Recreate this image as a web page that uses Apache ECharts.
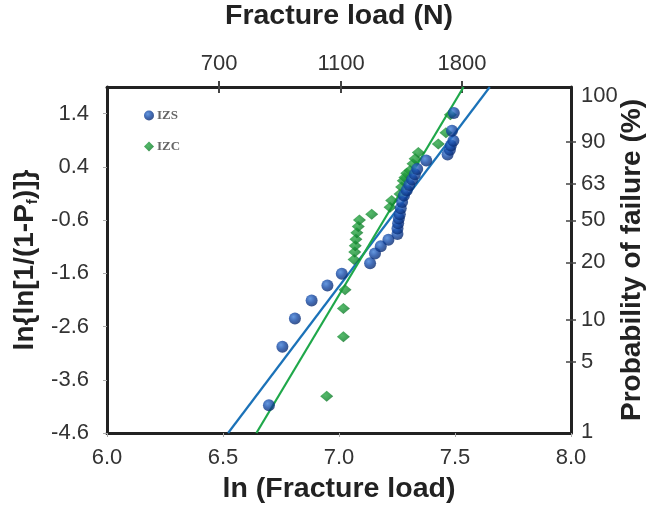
<!DOCTYPE html>
<html>
<head>
<meta charset="utf-8">
<script src="https://cdn.jsdelivr.net/npm/echarts@6/dist/echarts.min.js"></script>
<style>html,body{margin:0;padding:0;background:#fff}#c{width:649px;height:506px}</style>
</head>
<body>
<div id="c"></div>
<script>
// ---- data ----
const xTicks = [6.0, 6.5, 7.0, 7.5, 8.0];
const yTicks = [-4.6, -3.6, -2.6, -1.6, -0.6, 0.4, 1.4];
const loadLabels = ['700', '1100', '1800'];
const loadPos = [6.483, 7.009, 7.530];
const probLabels = ['1', '5', '10', '20', '50', '63', '90', '100'];
const probPos = [-4.58, -3.27, -2.48, -1.394, -0.606, 0.0875, 0.875, 1.74];

const izsX = [6.698, 6.756, 6.810, 6.882, 6.950, 7.012, 7.134, 7.155, 7.180, 7.213,
  7.252, 7.252, 7.255, 7.258, 7.262, 7.266, 7.272, 7.280, 7.292, 7.303, 7.315, 7.327, 7.337,
  7.376, 7.468, 7.478, 7.482, 7.493, 7.487, 7.495];
const izsY = [-4.08, -2.98, -2.45, -2.11, -1.83, -1.61, -1.41, -1.23, -1.09, -0.97,
  -0.86, -0.76, -0.66, -0.57, -0.49, -0.38, -0.26, -0.14, -0.04, 0.06, 0.16, 0.26, 0.36,
  0.52, 0.63, 0.72, 0.80, 0.89, 1.08, 1.41];

const izcX = [6.947, 7.019, 7.019, 7.026, 7.065, 7.068, 7.070, 7.073, 7.077, 7.083, 7.088,
  7.141, 7.220, 7.227, 7.263, 7.270, 7.277, 7.284, 7.292, 7.306, 7.319, 7.328, 7.342,
  7.428, 7.461, 7.480];
const izcY = [-3.91, -2.79, -2.26, -1.91, -1.34, -1.20, -1.08, -0.96, -0.84, -0.72, -0.60,
  -0.49, -0.36, -0.23, -0.11, 0.02, 0.14, 0.20, 0.28, 0.33, 0.46, 0.55, 0.67,
  0.83, 1.04, 1.38];

const izsFitX = [6.522, 7.650];
const izsFitY = [-4.6, 1.9];
const izcFitX = [6.644, 7.537];
const izcFitY = [-4.6, 1.9];

// ---- build ----
const zip = (a, b) => a.map((v, i) => [v, b[i]]);
const font = "'Liberation Sans', Arial, sans-serif";
const lineCol = '#222';
const probMap = {}; probPos.forEach((p, i) => probMap[p.toFixed(4)] = probLabels[i]);
const loadMap = {}; loadPos.forEach((p, i) => loadMap[p.toFixed(4)] = loadLabels[i]);

const blueGrad = {type: 'radial', x: 0.38, y: 0.35, r: 0.7,
  colorStops: [{offset: 0, color: '#3f7fd8'}, {offset: 0.5, color: '#1448a4'}, {offset: 1, color: '#08276a'}]};
const greenGrad = {type: 'radial', x: 0.4, y: 0.4, r: 0.7,
  colorStops: [{offset: 0, color: '#2aa844'}, {offset: 0.6, color: '#138a30'}, {offset: 1, color: '#09601c'}]};

const chart = echarts.init(document.getElementById('c'), null, {renderer: 'canvas'});
chart.setOption({
  animation: false,
  backgroundColor: '#fff',
  textStyle: {fontFamily: font},
  grid: {left: 107, top: 87, width: 464, height: 346, containLabel: false, outerBoundsMode: 'none'},
  legend: {
    orient: 'vertical', left: 139, top: 104, itemGap: 18, itemWidth: 10, itemHeight: 10,
    data: [{name: 'IZS', icon: 'circle'}, {name: 'IZC', icon: 'diamond'}],
    textStyle: {fontFamily: "'Liberation Serif', 'DejaVu Serif', serif", fontSize: 13, fontWeight: 'bold', color: '#666', padding: [0, 0, 0, -2]}
  },
  xAxis: [
    {
      type: 'value', position: 'bottom', min: 6, max: 8, interval: 0.5,
      name: 'ln (Fracture load)', nameLocation: 'middle', nameGap: 42, nameMoveOverlap: false,
      nameTextStyle: {fontFamily: font, fontSize: 28.5, fontWeight: 'bold', color: '#222'},
      axisLine: {show: true, onZero: false, lineStyle: {color: lineCol, width: 3}},
      axisTick: {show: true, length: 4, lineStyle: {color: '#aaa', width: 1}},
      axisLabel: {fontSize: 22, color: '#333', margin: 14, formatter: v => v.toFixed(1)},
      splitLine: {show: false}
    },
    {
      type: 'value', position: 'top', min: 6, max: 8,
      name: 'Fracture load (N)', nameLocation: 'middle', nameGap: 56, nameMoveOverlap: false,
      nameTextStyle: {fontFamily: font, fontSize: 28.5, fontWeight: 'bold', color: '#222'},
      axisLine: {show: true, onZero: false, lineStyle: {color: lineCol, width: 3}},
      axisTick: {show: true, length: 6, customValues: loadPos, lineStyle: {color: '#444', width: 2}},
      axisLabel: {fontSize: 22, color: '#333', margin: 12, customValues: loadPos,
        formatter: v => loadMap[v.toFixed(4)] || ''},
      splitLine: {show: false}
    },
    {
      type: 'value', position: 'top', min: 6, max: 8, show: true,
      axisLine: {show: false, onZero: false},
      axisTick: {show: true, inside: true, length: 6, customValues: loadPos, lineStyle: {color: '#444', width: 2}},
      axisLabel: {show: false}, splitLine: {show: false}
    }
  ],
  yAxis: [
    {
      type: 'value', position: 'left', min: -4.6, max: 1.9,
      name: 'ln{ln[1/(1-P{sub|f})]}', nameLocation: 'middle', nameGap: 67, nameRotate: 90, nameMoveOverlap: false,
      nameTextStyle: {fontFamily: font, fontSize: 28, fontWeight: 'bold', color: '#222',
        rich: {sub: {fontFamily: font, fontSize: 15, fontWeight: 'bold', color: '#222', verticalAlign: 'bottom', padding: [15, 0, 0, 0]}}},
      axisLine: {show: true, onZero: false, lineStyle: {color: lineCol, width: 3}},
      axisTick: {show: true, length: 4, customValues: yTicks, lineStyle: {color: '#aaa', width: 1}},
      axisLabel: {fontSize: 22, color: '#333', margin: 18, customValues: yTicks, formatter: v => v.toFixed(1)},
      splitLine: {show: false}
    },
    {
      type: 'value', position: 'right', min: -4.6, max: 1.9,
      name: 'Probability of failure (%)', nameLocation: 'middle', nameGap: 47, nameRotate: 90, nameMoveOverlap: false,
      nameTextStyle: {fontFamily: font, fontSize: 28, fontWeight: 'bold', color: '#222'},
      axisLine: {show: true, onZero: false, lineStyle: {color: lineCol, width: 3}},
      axisTick: {show: true, length: 5, customValues: probPos.slice(1, -1), lineStyle: {color: '#444', width: 1.5}},
      axisLabel: {fontSize: 22, color: '#333', margin: 10, customValues: probPos,
        formatter: v => probMap[v.toFixed(4)] || ''},
      splitLine: {show: false}
    },
    {
      type: 'value', position: 'right', min: -4.6, max: 1.9,
      axisLine: {show: false, onZero: false},
      axisTick: {show: true, inside: true, length: 5, customValues: probPos.slice(1, -1), lineStyle: {color: '#444', width: 1.5}},
      axisLabel: {show: false}, splitLine: {show: false}
    }
  ],
  series: [
    {
      name: 'IZS fit', type: 'line', xAxisIndex: 0, yAxisIndex: 0, data: zip(izsFitX, izsFitY),
      showSymbol: false, symbol: 'none', clip: true, silent: true,
      lineStyle: {color: '#1b72b8', width: 2.2}, z: 2
    },
    {
      name: 'IZC fit', type: 'line', xAxisIndex: 0, yAxisIndex: 0, data: zip(izcFitX, izcFitY),
      showSymbol: false, symbol: 'none', clip: true, silent: true,
      lineStyle: {color: '#1fa84a', width: 2.2}, z: 2
    },
    {
      name: 'IZC', type: 'scatter', xAxisIndex: 0, yAxisIndex: 0, data: zip(izcX, izcY),
      symbol: 'diamond', symbolSize: [13, 11], itemStyle: {color: greenGrad}, z: 3
    },
    {
      name: 'IZS', type: 'scatter', xAxisIndex: 0, yAxisIndex: 0, data: zip(izsX, izsY),
      symbol: 'circle', symbolSize: 12, itemStyle: {color: blueGrad}, z: 4
    }
  ]
});
</script>
</body>
</html>
